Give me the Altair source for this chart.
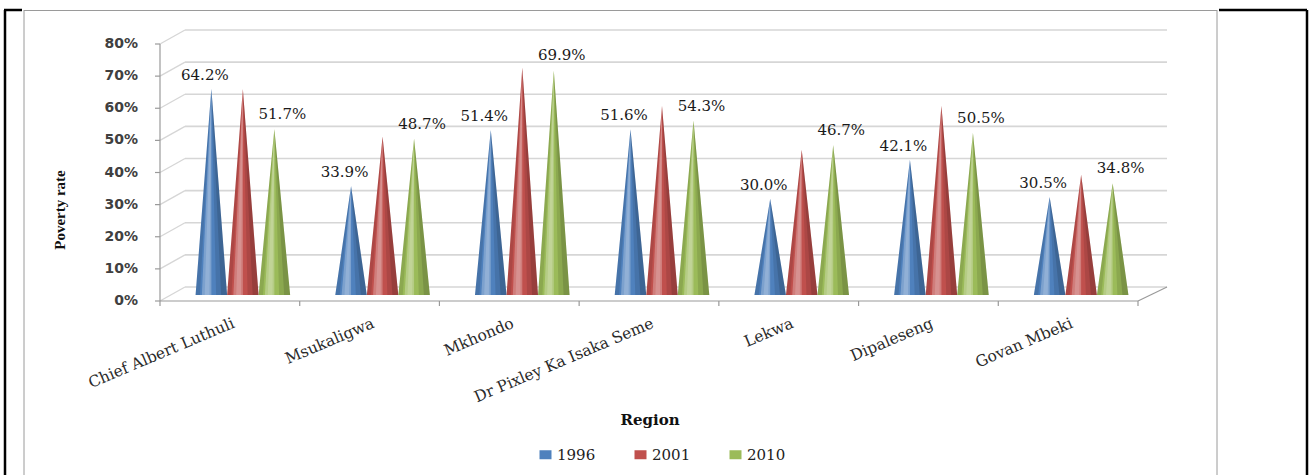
import altair as alt
import pandas as pd

# ---------------- data ----------------
regions = ["Chief Albert Luthuli", "Msukaligwa", "Mkhondo",
           "Dr Pixley Ka Isaka Seme", "Lekwa", "Dipaleseng", "Govan Mbeki"]
years = ["1996", "2001", "2010"]
rate_1996 = [64.2, 33.9, 51.4, 51.6, 30.0, 42.1, 30.5]
rate_2001 = [64.1, 49.3, 70.8, 58.9, 45.2, 58.9, 37.4]
rate_2010 = [51.7, 48.7, 69.9, 54.3, 46.7, 50.5, 34.8]
labelled_years = ["1996", "2010"]
y_ticks = [0, 10, 20, 30, 40, 50, 60, 70, 80]
y_tick_labels = [f"{t}%" for t in y_ticks]
colors = ["#4F81BD", "#C0504D", "#9BBB59"]
y_title = "Poverty rate"
x_title = "Region"

series = {"1996": rate_1996, "2001": rate_2001, "2010": rate_2010}

# ---------------- layout / style constants ----------------
W, H = 978, 257
SLOT = 0.2255   # distance between cones of one region (category units)
HALF = 0.113    # cone half-width at the base
FX, FY = -13, 6   # front plane offset (px)
BX, BY = 12, -8   # back wall offset (px)
# shading bands across a cone: (from, to) as fraction of half-width, colour, opacity
BANDS = [(-1.0, -0.72, "black", 0.10), (-0.6, 0.0, "white", 0.26), (-0.42, -0.12, "white", 0.16),
         (0.3, 1.0, "black", 0.10), (0.62, 1.0, "black", 0.12)]


def band_points(c, v, a, b):
    """Outline of a wedge of the cone between base fractions a < b (y = top, y2 = bottom)."""
    A, B = c + a * HALF, c + b * HALF
    if a == 0:
        return [(c, v, 0.0), (B, 0.0, 0.0)]
    if b == 0:
        return [(A, 0.0, 0.0), (c, v, 0.0)]
    if a < 0 < b:
        return [(A, 0.0, 0.0), (c, v, 0.0), (B, 0.0, 0.0)]
    if a > 0:   # right side
        return [(c, v, v), (A, v * (1 - a / b), 0.0), (B, 0.0, 0.0)]
    # left side
    return [(A, 0.0, 0.0), (B, v * (1 - b / a), 0.0), (c, v, v)]


cone_rows, label_rows, band_rows = [], [], []
for i, reg in enumerate(regions):
    for k, yr in enumerate(years):
        v = series[yr][i]
        c = i + 0.5 + (k - 1) * SLOT
        cid = f"{i}-{k}"
        cone_rows += [
            {"cone": cid, "year": yr, "x": c - HALF, "y": 0.0},
            {"cone": cid, "year": yr, "x": c, "y": v},
            {"cone": cid, "year": yr, "x": c + HALF, "y": 0.0},
        ]
        label_rows.append({"year": yr, "x": c, "y": v, "label": f"{v:.1f}%"})
        for bi, (a, b, col, op) in enumerate(BANDS):
            for (px, top, bot) in band_points(c, v, a, b):
                band_rows.append({"cone": cid, "band": bi, "x": px, "y": top, "y2": bot})
cones = pd.DataFrame(cone_rows)
labels = pd.DataFrame(label_rows)
bands = pd.DataFrame(band_rows)
ticks_df = pd.DataFrame({"y": y_ticks, "label": y_tick_labels})
regions_df = pd.DataFrame({"region": regions, "x": [i + 0.5 for i in range(len(regions))]})
bounds_df = pd.DataFrame({"x": list(range(len(regions) + 1))})
one = pd.DataFrame({"a": [0]})

xscale = alt.Scale(domain=[0, len(regions)], nice=False, zero=False)
yscale = alt.Scale(domain=[0, 80], nice=False, zero=False)

GRID = "#d6d6d6"
AXIS = "#9a9a9a"

# back-wall gridlines
grid = alt.Chart(ticks_df).mark_rule(color=GRID, strokeWidth=1.6, xOffset=BX, x2Offset=16, yOffset=BY).encode(
    x=alt.datum(0, scale=xscale, axis=None), x2=alt.datum(len(regions)),
    y=alt.Y("y:Q", scale=yscale, axis=None))
# side-wall diagonals
diag = alt.Chart(ticks_df).mark_rule(color=GRID, strokeWidth=1.4, xOffset=FX, x2Offset=BX, yOffset=FY, y2Offset=BY).encode(
    x=alt.datum(0, axis=None), x2=alt.datum(0), y=alt.Y("y:Q", axis=None), y2="y:Q")
# floor edges
floor_front = alt.Chart(one).mark_rule(color=AXIS, strokeWidth=1.2, xOffset=FX, x2Offset=FX, yOffset=FY).encode(
    x=alt.datum(0, axis=None), x2=alt.datum(len(regions)), y=alt.datum(0, axis=None))
floor_right = alt.Chart(one).mark_rule(color=AXIS, strokeWidth=1.2, xOffset=FX, x2Offset=16, yOffset=FY, y2Offset=BY).encode(
    x=alt.datum(len(regions), axis=None), x2=alt.datum(len(regions)), y=alt.datum(0, axis=None), y2=alt.datum(0))
# front y axis line and ticks
y_line = alt.Chart(one).mark_rule(color=AXIS, strokeWidth=1.2, xOffset=FX, yOffset=FY, y2Offset=FY).encode(
    x=alt.datum(0, axis=None), y=alt.datum(0, axis=None), y2=alt.datum(80))
y_tick_marks = alt.Chart(ticks_df).mark_rule(color=AXIS, strokeWidth=1.2, xOffset=FX - 5, x2Offset=FX, yOffset=FY).encode(
    x=alt.datum(0, axis=None), x2=alt.datum(0), y=alt.Y("y:Q", axis=None))
x_tick_marks = alt.Chart(bounds_df).mark_rule(color=AXIS, strokeWidth=1.2, xOffset=FX, yOffset=FY, y2Offset=FY + 5).encode(
    x=alt.X("x:Q", axis=None), y=alt.datum(0, axis=None), y2=alt.datum(0))

# cones
cone_layer = alt.Chart(cones).mark_area(opacity=1, interpolate="linear").encode(
    x=alt.X("x:Q", scale=xscale, axis=None),
    y=alt.Y("y:Q", scale=yscale, axis=None),
    color=alt.Color("year:N", scale=alt.Scale(domain=years, range=colors),
                    legend=alt.Legend(orient="none", legendX=365, legendY=409, direction="horizontal",
                                      title=None, symbolType="M-1.2,-0.9H1.2V0.9H-1.2Z",
                                      symbolSize=100, symbolStrokeWidth=0,
                                      labelFont="DejaVu Serif", labelFontSize=15, labelColor="#222",
                                      columnPadding=37, labelOffset=4, padding=0)),
    detail="cone:N",
)

band_layers = []
for bi, (a, b, col, op) in enumerate(BANDS):
    band_layers.append(
        alt.Chart(bands).transform_filter(alt.datum.band == bi).mark_area(
            fill=col, fillOpacity=op, interpolate="linear", strokeWidth=0).encode(
            x=alt.X("x:Q", axis=None), y=alt.Y("y:Q", axis=None), y2="y2:Q", detail="cone:N"))

# y tick labels
y_labels = alt.Chart(ticks_df).mark_text(align="right", baseline="middle", xOffset=-35, yOffset=FY,
                                         font="DejaVu Sans", fontSize=14, fontWeight="bold", color="#404040").encode(
    x=alt.datum(0, axis=None), y=alt.Y("y:Q", axis=None), text="label:N")
# region labels
x_labels = alt.Chart(regions_df).mark_text(angle=337, align="right", baseline="top", xOffset=FX + 1, yOffset=21,
                                           font="DejaVu Serif", fontSize=15.5, color="#2a2a2a").encode(
    x=alt.X("x:Q", axis=None), y=alt.datum(0, axis=None), text="region:N")
# value labels
lab96 = alt.Chart(labels).transform_filter(alt.datum.year == labelled_years[0]).mark_text(
    align="center", baseline="middle", xOffset=-6.5, yOffset=-14,
    font="DejaVu Serif", fontSize=15, color="#1a1a1a").encode(
    x=alt.X("x:Q", axis=None), y=alt.Y("y:Q", axis=None), text="label:N")
lab10 = alt.Chart(labels).transform_filter(alt.datum.year == labelled_years[1]).mark_text(
    align="center", baseline="middle", xOffset=8, yOffset=-15,
    font="DejaVu Serif", fontSize=15, color="#1a1a1a").encode(
    x=alt.X("x:Q", axis=None), y=alt.Y("y:Q", axis=None), text="label:N")

OX, OY = 173, 38
# axis titles
y_title_mark = alt.Chart(one).mark_text(text=y_title, angle=270, align="center", baseline="middle",
                                        font="Liberation Serif", fontSize=15, fontWeight="bold", color="#111").encode(
    x=alt.value(60 - OX), y=alt.value(210 - OY))
x_title_mark = alt.Chart(one).mark_text(text=x_title, align="center", baseline="middle",
                                        font="DejaVu Serif", fontSize=15, fontWeight="bold", color="#111").encode(
    x=alt.value(650 - OX), y=alt.value(420 - OY))


# page frame (document table borders)
def vrule(x, y1, y2, color, w):
    return alt.Chart(one).mark_rule(color=color, strokeWidth=w).encode(
        x=alt.value(x), y=alt.value(y1), y2=alt.value(y2))


def hrule(x1, x2, y, color, w):
    return alt.Chart(one).mark_rule(color=color, strokeWidth=w).encode(
        x=alt.value(x1), x2=alt.value(x2), y=alt.value(y))


frame = [
    vrule(5 - OX, 10 - OY, 475 - OY, "#000", 2.5),
    hrule(4 - OX, 22 - OX, 10 - OY, "#000", 2.5),
    vrule(24 - OX, 10 - OY, 475 - OY, "#9a9a9a", 1),
    hrule(24 - OX, 1217 - OX, 10.5 - OY, "#9a9a9a", 1),
    vrule(1217 - OX, 10 - OY, 475 - OY, "#9a9a9a", 1),
    hrule(1219 - OX, 1307 - OX, 10 - OY, "#000", 2.5),
    vrule(1307 - OX, 10 - OY, 475 - OY, "#000", 2.5),
]

chart = alt.layer(
    grid, diag, floor_front, floor_right, y_line, y_tick_marks, x_tick_marks, cone_layer,
    *band_layers, y_labels, x_labels, lab96, lab10, y_title_mark, x_title_mark, *frame
).properties(
    width=W, height=H,
    autosize=alt.AutoSizeParams(type="none"),
    padding={"left": OX, "top": OY, "right": 1312 - OX - W, "bottom": 475 - OY - H},
    background="white",
).configure_view(strokeWidth=0)

chart.save("out.html", embed_options={"renderer": "svg", "actions": False})
